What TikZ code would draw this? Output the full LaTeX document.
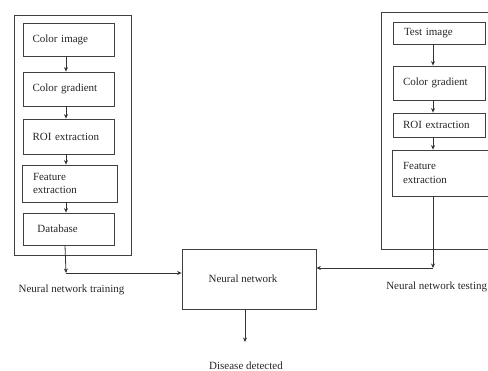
\documentclass[tikz,border=0pt]{standalone}
\usepackage{fontspec}
\setmainfont{Liberation Serif}
\usetikzlibrary{arrows.meta}
\begin{document}
\begin{tikzpicture}[x=1pt,y=-1pt,
  line width=0.8pt,
  every node/.style={font=\fontsize{11}{13.5}\selectfont, text=black!85},
  stepbox/.style={draw=black!75, align=left, text width=72pt, inner xsep=9.5pt, inner ysep=0pt},
  outerbox/.style={draw=black!75, line width=0.9pt},
  arr/.style={draw=black!80, -{Stealth[length=4.5pt,width=4pt]}}]
\useasboundingbox (0,0) rectangle (488,371);
% left column
\draw[outerbox] (14,15) rectangle (131,255);
\node[stepbox, minimum width=91pt, minimum height=33pt] (ci) at (68.5,39.5) {Color image};
\node[stepbox, minimum width=91pt, minimum height=34pt] (cg) at (68.5,89) {Color gradient};
\node[stepbox, minimum width=91pt, minimum height=35pt] (roi) at (68.5,136.5) {ROI extraction};
\node[stepbox, minimum width=95pt, minimum height=37pt, text width=73pt, inner xsep=11pt] (fe) at (69.5,183.5) {Feature\\extraction};
\node[stepbox, minimum width=91pt, minimum height=32pt] (db) at (68.5,229) {\hspace*{5pt}Database};
\draw[arr] ([xshift=-2.5]ci.south) -- ([xshift=-2.5]cg.north);
\draw[arr] ([xshift=-2.5]cg.south) -- ([xshift=-2.5]roi.north);
\draw[arr] ([xshift=-2.5]roi.south) -- ([xshift=-3.5]fe.north);
\draw[arr] ([xshift=-3.5]fe.south) -- ([xshift=-2.5]db.north);
% right column
\draw[outerbox] (381,12) -- (500,12) (381,12) -- (381,249) -- (500,249);
\node[stepbox, minimum width=92pt, minimum height=22pt, text width=70pt, inner xsep=11pt] (ti) at (439,33) {Test image};
\node[stepbox, minimum width=92pt, minimum height=34pt, text width=72pt, inner xsep=10pt] (cg2) at (439,83) {Color gradient};
\node[stepbox, minimum width=92pt, minimum height=24pt, text width=72pt, inner xsep=10pt] (roi2) at (439,125) {ROI extraction};
\node[stepbox, minimum width=96pt, minimum height=46pt, text width=74pt, inner xsep=11pt] (fe2) at (440,173) {Feature\\extraction};
\draw[arr] ([xshift=-6]ti.south) -- ([xshift=-6]cg2.north);
\draw[arr] ([xshift=-6]cg2.south) -- ([xshift=-6]roi2.north);
\draw[arr] ([xshift=-6]roi2.south) -- ([xshift=-7]fe2.north);
% neural network
\node[draw=black!75, minimum width=134pt, minimum height=60pt, inner sep=0pt] (nn) at (249,279) {\hspace*{-12pt}Neural network};
\coordinate (c1) at (66,273);
\coordinate (c2) at (433,268);
\coordinate (c3) at (245,342);
\draw[arr] ([xshift=-3.5]db.south) -- (c1);
\draw[arr] (c1) -- (nn.west |- c1);
\draw[arr] ([xshift=-7]fe2.south) -- (c2);
\draw[arr] (c2) -- (nn.east |- c2);
\draw[arr] (nn.south -| c3) -- (c3);
% labels
\node (ltrain) at (71.5,290) {Neural network training};
\node[anchor=east, inner sep=0pt] (ltest) at (487.5,287) {Neural network testing};
\node (ldis) at (246,366) {Disease detected};
\end{tikzpicture}
\end{document}
